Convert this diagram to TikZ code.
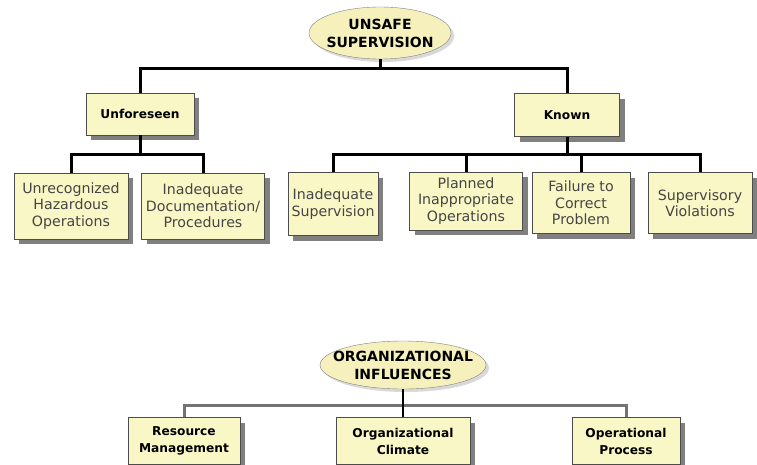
\documentclass[tikz,border=0pt]{standalone}
\usepackage{fontspec}
\setmainfont{DejaVu Sans}
\usepackage{tikz}
\usetikzlibrary{shapes.geometric,shadows}
\definecolor{boxfill}{HTML}{FAF7C6}
\definecolor{ovalfill}{HTML}{F6F1BC}
\definecolor{leaftext}{HTML}{454545}

\begin{document}
\begin{tikzpicture}
	[
	 x = 1pt, y = -1pt,
	 every node/.style = {align=center,
	                      inner sep = 0pt
	                     },
	 Top/.style  = {shape=ellipse,
	                draw = black!50,
	                fill = ovalfill,
	                inner xsep = -14pt,
	                inner ysep = -5pt,
	                font = \bfseries\fontsize{14}{18}\selectfont,
	                drop shadow = {shadow xshift=3pt, shadow yshift=-3pt, opacity=.3}},
	 Mid/.style  = {shape=rectangle,
	                draw = black!70,
	                fill = boxfill,
	                font = \bfseries\fontsize{12.2}{17}\selectfont,
	                drop shadow = {shadow xshift=5pt, shadow yshift=-5pt, fill=black!50, opacity=1}},
	 Leaf/.style = {Mid,
	                text = leaftext,
	                font = \fontsize{14.2}{16.5}\selectfont},
	 Bar/.style  = {line width=3pt, black},
	 LBar/.style = {line width=3pt, black!55}
	]

	\newcommand{\UHO}{Unrecognized\\Hazardous\\Operations}
	\newcommand{\IDP}{Inadequate\\Documentation/\\Procedures}
	\newcommand{\ISU}{Inadequate\\Supervision}
	\newcommand{\PIO}{Planned\\Inappropriate\\Operations}
	\newcommand{\FCP}{Failure to\\Correct\\Problem}
	\newcommand{\SVI}{Supervisory\\Violations}

	\useasboundingbox (0,0) rectangle (757,464);

	% unsafe supervision
	\node [Top, minimum width=142pt, minimum height=52pt] (A) at (380,33) {UNSAFE\\SUPERVISION};
	\node [Mid, minimum width=108pt, minimum height=42pt] (B1) at (140,114) {Unforeseen};
	\node [Mid, minimum width=105pt, minimum height=43pt] (B2) at (567,115) {Known};

	\node [Leaf, minimum width=114pt, minimum height=66pt] (C1) at (71,206)  {\UHO};
	\node [Leaf, minimum width=123pt, minimum height=66pt] (C2) at (203,206) {\IDP};
	\node [Leaf, minimum width=90pt,  minimum height=63pt] (C3) at (333,204) {\ISU};
	\node [Leaf, minimum width=113pt, minimum height=58pt] (C4) at (466,201) {\PIO};
	\node [Leaf, minimum width=98pt,  minimum height=61pt] (C5) at (581,203) {\FCP};
	\node [Leaf, minimum width=104pt, minimum height=61pt] (C6) at (700,203) {\SVI};

	\coordinate (T) at (0,68);
	\coordinate (M) at (0,154);

	\draw [Bar] (A.south) -- (A.south |- T);
	\draw [Bar] (B1.north) |- (B2.north |- T) -- (B2.north);
	\draw [Bar] (B1.south) -- (B1.south |- M);
	\draw [Bar] (C1.north) |- (C2.north |- M) -- (C2.north);
	\draw [Bar] (B2.south) -- (B2.south |- M);
	\draw [Bar] (C3.north) |- (C6.north |- M) -- (C6.north);
	\draw [Bar] (C4.north) -- (C4.north |- M);
	\draw [Bar] (C5.north) -- (C5.north |- M);

	% organizational influences
	\node [Top, minimum width=166pt, minimum height=48pt] (D) at (403,365) {ORGANIZATIONAL\\INFLUENCES};
	\node [Mid, minimum width=112pt, minimum height=47pt] (E1) at (184,441) {Resource\\Management};
	\node [Mid, minimum width=134pt, minimum height=47pt] (E2) at (403,441) {Organizational\\Climate};
	\node [Mid, minimum width=108pt, minimum height=47pt] (E3) at (626,441) {Operational\\Process};

	\coordinate (O) at (0,405);

	\draw [LBar] (E1.north) |- (E3.north |- O) -- (E3.north);
	\draw [Bar, line width=2.5pt] (D.south) -- (E2.north);
\end{tikzpicture}
\end{document}
